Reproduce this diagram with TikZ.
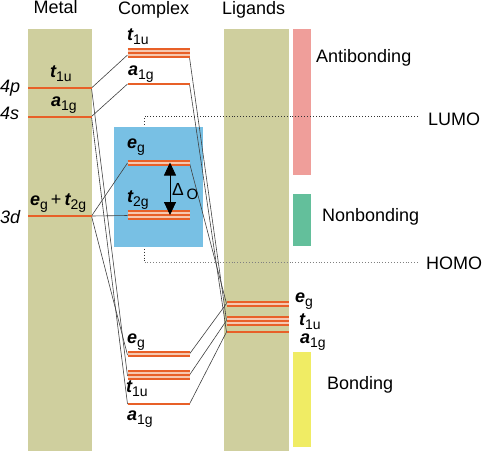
\documentclass[tikz,border=0pt]{standalone}
\usepackage{fontspec}
\setmainfont{Liberation Sans}
\usetikzlibrary{arrows.meta}
\definecolor{khaki}{RGB}{207,207,158}
\definecolor{lvor}{RGB}{232,96,40}
\definecolor{lvpale}{RGB}{246,200,176}
\definecolor{antib}{RGB}{239,158,154}
\definecolor{nonb}{RGB}{99,191,155}
\definecolor{bondc}{RGB}{240,236,100}
\definecolor{boxblue}{RGB}{120,192,228}
\newcommand\mlab[2]{{\fontsize{18}{18}\selectfont\bfseries\itshape #1}\raisebox{-4pt}{\fontsize{14}{14}\selectfont #2}}
\newcommand\lvstack[4]{%
  \fill[lvpale] (#1,#3) rectangle (#2,{#3+4*(#4-1)});
  \foreach \k in {1,...,#4} {\draw[lvl] (#1,{#3+4*(\k-1)}) -- (#2,{#3+4*(\k-1)});}
}
\begin{document}
\begin{tikzpicture}[x=1pt,y=-1pt,
  lvl/.style={draw=lvor,line width=2pt},
  conn/.style={draw=black!75,line width=0.6pt},
  lbl/.style={anchor=base west,inner sep=0pt,font=\fontsize{18}{18}\selectfont},
  dots/.style={dotted,line width=0.9pt}]
\useasboundingbox (0,0) rectangle (483,451);
% columns
\fill[khaki] (27.7,29) rectangle (91.7,451);
\fill[khaki] (224,29) rectangle (288.5,451);
\fill[antib] (292.7,29) rectangle (310.7,175);
\fill[nonb] (292.7,194.3) rectangle (310.7,246);
\fill[bondc] (292.7,352.3) rectangle (310.7,447);
% headings
\node[lbl] (hM) at (33.5,13) {Metal};
\node[lbl] (hC) at (118,14) {Complex};
\node[lbl] (hL) at (222,14) {Ligands};
\node[lbl] (tA) at (316,62.7) {Antibonding};
\node[lbl] (tN) at (322,221) {Nonbonding};
\node[lbl] (tB) at (327,389) {Bonding};
% HOMO/LUMO dotted lines
\coordinate (luA) at (144.5,116.3);
\coordinate (luB) at (418,116.3);
\coordinate (hoA) at (144.5,262.7);
\coordinate (hoB) at (418,262.7);
\draw[dots,black!80] (luB) -- (luA) -- (hoA);
\draw[dots,black!50] (hoA) -- (hoB);
\node[lbl] (tLU) at (428,125) {LUMO};
\node[lbl] (tHO) at (426,269) {HOMO};
% blue box
\fill[boxblue] (114.3,127.3) rectangle (202.7,246.7);
% connector attach points
\coordinate (m4p) at (91.5,88);
\coordinate (m4s) at (91.5,116.5);
\coordinate (m3d) at (91.5,216);
\coordinate (cT1uUL) at (127.5,55);
\coordinate (cT1uUR) at (189.5,57.5);
\coordinate (cA1gUL) at (127.5,84);
\coordinate (cA1gUR) at (189.5,84);
\coordinate (cEgUL) at (127.5,163);
\coordinate (cEgUR) at (189.5,163);
\coordinate (cT2gL) at (127.5,215.5);
\coordinate (cEgDL) at (127.5,355);
\coordinate (cEgDR) at (189.5,354);
\coordinate (cT1uDL) at (127.5,376);
\coordinate (cT1uDR) at (189.5,375);
\coordinate (cA1gDL) at (127.5,404);
\coordinate (cA1gDR) at (189.5,404);
\coordinate (lEg) at (226.5,303.5);
\coordinate (lT1u) at (226.5,320.5);
\coordinate (lA1g) at (226.5,332);
% connectors
\draw[conn] (m4p) -- (cT1uUL);
\draw[conn] (m4p) -- (cT1uDL);
\draw[conn] (m4s) -- (cA1gUL);
\draw[conn] (m4s) -- (cA1gDL);
\draw[conn] (m3d) -- (cEgUL);
\draw[conn] (m3d) -- (cT2gL);
\draw[conn] (m3d) -- (cEgDL);
\draw[conn] (cT1uUR) -- (lT1u);
\draw[conn] (cA1gUR) -- (lA1g);
\draw[conn] (cEgUR) -- (lEg);
\draw[conn] (cEgDR) -- (lEg);
\draw[conn] (cT1uDR) -- (lT1u);
\draw[conn] (cA1gDR) -- (lA1g);
% levels: metal
\lvstack{28}{91.5}{88}{1}
\lvstack{28}{91.5}{116.5}{1}
\lvstack{28}{91.5}{216}{1}
% levels: complex
\lvstack{127.5}{189.5}{49}{3}
\lvstack{127.5}{189.5}{84}{1}
\lvstack{127.5}{189.5}{160.5}{2}
\lvstack{127.5}{189.5}{211}{3}
\lvstack{127.5}{189.5}{352}{2}
\lvstack{127.5}{189.5}{371}{3}
\lvstack{127.5}{189.5}{404}{1}
% levels: ligands
\lvstack{226.5}{289}{301.5}{2}
\lvstack{226.5}{289}{316.5}{3}
\lvstack{226.5}{289}{332}{1}
% metal labels
\node[lbl,font=\fontsize{18}{18}\selectfont\itshape] (l4p) at (0,92) {4p};
\node[lbl,font=\fontsize{18}{18}\selectfont\itshape] (l4s) at (0,119.5) {4s};
\node[lbl,font=\fontsize{18}{18}\selectfont\itshape] (l3d) at (0,223) {3d};
\node[lbl] (mT1u) at (50,77) {\mlab{t}{1u}};
\node[lbl] (mA1g) at (51,106) {\mlab{a}{1g}};
\node[lbl] (mEgT) at (30,205) {\mlab{e}{g}\,{\fontsize{18}{18}\selectfont +}\,\mlab{t}{2g}};
% complex labels
\node[lbl] (xT1uU) at (127,40) {\mlab{t}{1u}};
\node[lbl] (xA1gU) at (128,75) {\mlab{a}{1g}};
\node[lbl] (xEgU) at (127,148) {\mlab{e}{g}};
\node[lbl] (xT2g) at (127,202) {\mlab{t}{2g}};
\node[lbl] (xEgD) at (127,343) {\mlab{e}{g}};
\node[lbl] (xT1uD) at (126,392) {\mlab{t}{1u}};
\node[lbl] (xA1gD) at (127,420) {\mlab{a}{1g}};
% ligand labels
\node[lbl] (gEg) at (295,302) {\mlab{e}{g}};
\node[lbl] (gT1u) at (299,325) {\mlab{t}{1u}};
\node[lbl] (gA1g) at (300,343) {\mlab{a}{1g}};
% Delta_O arrow
\coordinate (dTop) at (170,162.5);
\coordinate (dBot) at (170,215);
\draw[line width=0.8pt,{Triangle[length=13pt,width=12pt]}-{Triangle[length=13pt,width=12pt]}] (dTop) -- (dBot);
\node[lbl,font=\fontsize{17.5}{17.5}\selectfont] (dL) at (172,195.5) {Δ};
\node[lbl,font=\fontsize{15}{15}\selectfont] (dO) at (186.5,199.5) {O};
\end{tikzpicture}
\end{document}
